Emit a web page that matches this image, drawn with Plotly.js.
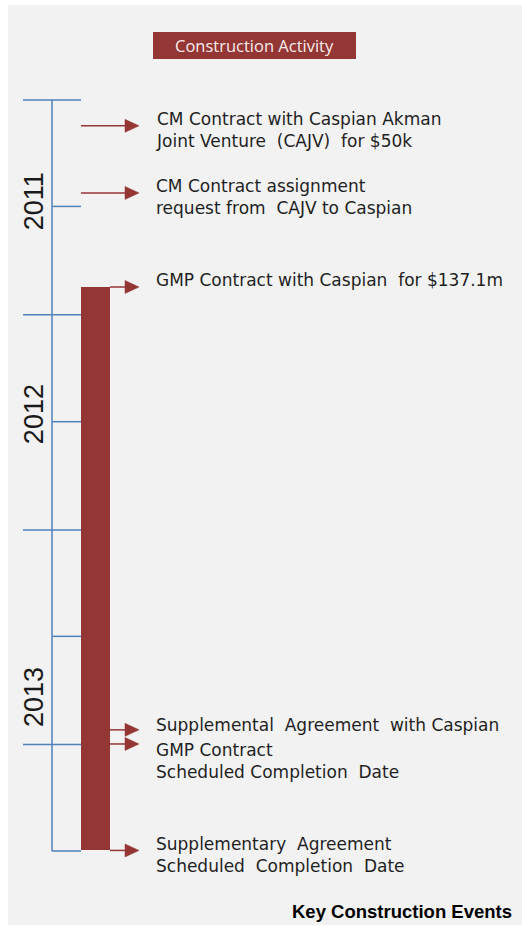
<!DOCTYPE html>
<html>
<head>
<meta charset="utf-8">
<script src="https://cdn.plot.ly/plotly-3.0.1.min.js"></script>
<style>html,body{margin:0;padding:0;background:#fff;}</style>
</head>
<body>
<div id="chart" style="width:522px;height:926px;"></div>
<script>
// ---- data ----
const tickDates = ['2011-01-01','2011-07-01','2012-01-01','2012-07-01','2013-01-01','2013-07-01','2014-01-01','2014-07-01'];
const tickIsYearStart = [true,false,true,false,true,false,true,false];
const yearLabels = ['2011','2012','2013'];
const yearLabelDates = ['2011-06-23','2012-06-19','2013-10-13'];
const eventDates = ['2011-02-14','2011-06-08','2011-11-15','2013-12-07','2013-12-31','2014-06-30'];
const eventLabels = [
  'CM Contract with Caspian Akman<br>Joint Venture\u00a0 (CAJV)\u00a0 for $50k',
  'CM Contract assignment<br>request from\u00a0 CAJV to Caspian',
  'GMP Contract with Caspian\u00a0 for $137.1m',
  'Supplemental\u00a0 Agreement\u00a0 with Caspian',
  'GMP Contract<br>Scheduled Completion\u00a0 Date',
  'Supplementary\u00a0 Agreement<br>Scheduled\u00a0 Completion\u00a0 Date'
];
const eventLabelShift = [-4.4, -4, 6.7, 5.3, -16.7, -4.5];
const activityName = 'Construction Activity';
const activityStart = '2011-11-15';
const activityEnd = '2014-06-30';
const footer = 'Key Construction Events';

// ---- layout constants ----
const W = 522, H = 926;
const yRange = ['2014-11-05 12:00', '2010-07-15'];
const RED = '#943634', BLUE = '#4f81bd';
const ms = d => new Date(d.replace(' ', 'T') + (d.length > 10 ? ':00Z' : 'T00:00:00Z')).getTime();
const msPerPx = (ms(yRange[0]) - ms(yRange[1])) / H;

const traces = [];
// main timeline line
traces.push({type:'scatter', mode:'lines', x:[52,52], y:[tickDates[0], tickDates[tickDates.length-1]],
  line:{color:BLUE, width:1.5}, hoverinfo:'skip'});
// ticks
const tx = [], ty = [];
tickDates.forEach((d,i) => { tx.push(tickIsYearStart[i] ? 23 : 52, 81, null); ty.push(d, d, null); });
traces.push({type:'scatter', mode:'lines', x:tx, y:ty, line:{color:BLUE, width:1.5}, hoverinfo:'skip'});
// activity bar
traces.push({type:'bar', orientation:'v', x:[95.5], base:[activityStart],
  y:[ms(activityEnd) - ms(activityStart)], width:[29], marker:{color:RED, line:{width:0}}, hoverinfo:'skip'});
// event arrows
const barStartMs = ms(activityStart);
eventDates.forEach(d => {
  const t = ms(d);
  const x0 = t < barStartMs ? 81 : 110;
  traces.push({type:'scatter', mode:'lines', x:[x0,126], y:[t,t], line:{color:RED, width:1.5}, hoverinfo:'skip'});
  const h = 6.5 * msPerPx;
  traces.push({type:'scatter', mode:'lines', x:[125,139,125,125], y:[t-h,t,t+h,t-h], fill:'toself',
    fillcolor:RED, line:{color:RED, width:0.5}, hoverinfo:'skip'});
});

const annotations = [];
eventDates.forEach((d,i) => {
  annotations.push({x:154, y:ms(d), xref:'x', yref:'y', xanchor:'left', yanchor:'middle', align:'left',
    yshift:eventLabelShift[i], showarrow:false, text:eventLabels[i],
    font:{family:'DejaVu Sans', size:17, color:'#1f1f1f'}});
});
yearLabels.forEach((t,i) => {
  annotations.push({x:33.5, y:yearLabelDates[i], xref:'x', yref:'y', textangle:-90, showarrow:false,
    text:t, font:{family:'Liberation Sans Narrow, Liberation Sans', size:27, color:'#1a1a1a'}});
});
annotations.push({x:254.5, y:1-45.5/H, xref:'x', yref:'paper', xanchor:'center', yanchor:'middle', showarrow:false,
  text:activityName, font:{family:'Open Sans', size:16.5, color:'#f7ecec'}});
annotations.push({x:514, y:1-911.7/H, xref:'x', yref:'paper', xanchor:'right', yanchor:'middle', showarrow:false,
  text:'<b>'+footer+'</b>', font:{family:'Liberation Sans', size:18.5, color:'#000'}});

const shapes = [
  {type:'rect', xref:'x', yref:'paper', x0:8, x1:522, y0:1/H, y1:1-5/H, fillcolor:'#f2f2f2', line:{width:0}, layer:'below'},
  {type:'rect', xref:'x', yref:'paper', x0:153, x1:356, y0:1-59/H, y1:1-32/H, fillcolor:RED, line:{width:0}, layer:'below'}
];

const layout = {
  width:W, height:H, margin:{l:0,r:0,t:0,b:0,pad:0},
  paper_bgcolor:'#ffffff', plot_bgcolor:'rgba(0,0,0,0)', showlegend:false,
  xaxis:{range:[0,W], visible:false, fixedrange:true},
  yaxis:{type:'date', range:yRange, visible:false, fixedrange:true},
  annotations:annotations, shapes:shapes, bargap:0
};
Plotly.newPlot('chart', traces, layout, {staticPlot:true, displayModeBar:false});
</script>
</body>
</html>
